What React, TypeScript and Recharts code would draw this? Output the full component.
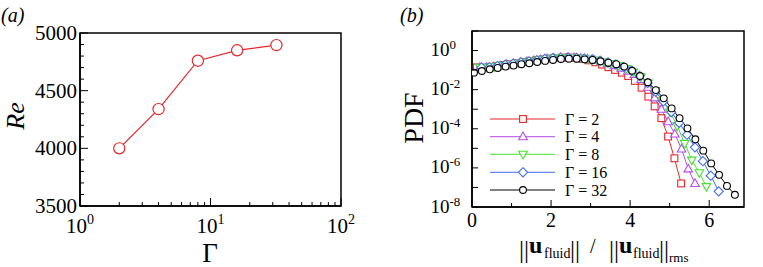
import { LineChart, Line, XAxis, YAxis, ReferenceArea, Legend } from "recharts";

const SERIF = '"Liberation Serif", "Times New Roman", serif';

// (a) Re against the aspect ratio Gamma
const gammaValues = [2, 4, 8, 16, 32];
const reValues = [4000, 4340, 4760, 4850, 4895];
const gammaTicks = [1, 2, 3, 4, 5, 6, 7, 8, 9, 10, 20, 30, 40, 50, 60, 70, 80, 90, 100];
const reTicks = [3500, 3600, 3700, 3800, 3900, 4000, 4100, 4200, 4300, 4400, 4500, 4600, 4700, 4800, 4900, 5000];

// (b) PDF of the fluid speed, one x/pdf pair per Gamma
const speed2 = [0.12, 0.29, 0.45, 0.62, 0.79, 0.95, 1.12, 1.29, 1.45, 1.62, 1.79, 1.95, 2.12, 2.29, 2.45, 2.62, 2.79, 2.95, 3.12, 3.29, 3.45, 3.62, 3.79, 3.95, 4.12, 4.29, 4.46, 4.62, 4.79, 4.96, 5.12, 5.29];
const pdf2 = [0.138, 0.135, 0.138, 0.158, 0.182, 0.2, 0.224, 0.257, 0.282, 0.316, 0.355, 0.389, 0.417, 0.437, 0.437, 0.417, 0.372, 0.316, 0.251, 0.191, 0.141, 0.102, 0.074, 0.05, 0.028, 0.0126, 4.4e-3, 1.4e-3, 3.5e-4, 4.0e-5, 3.1e-6, 1.6e-7];

const speed4 = [0.2, 0.37, 0.54, 0.71, 0.88, 1.05, 1.22, 1.39, 1.56, 1.73, 1.9, 2.07, 2.24, 2.41, 2.58, 2.75, 2.92, 3.09, 3.26, 3.43, 3.6, 3.77, 3.94, 4.11, 4.28, 4.45, 4.62, 4.79, 4.96, 5.13, 5.3, 5.47, 5.64];
const pdf4 = [0.138, 0.138, 0.148, 0.17, 0.195, 0.214, 0.245, 0.275, 0.302, 0.339, 0.38, 0.407, 0.427, 0.437, 0.427, 0.407, 0.372, 0.324, 0.269, 0.219, 0.17, 0.126, 0.089, 0.06, 0.033, 0.0132, 3.8e-3, 1.0e-3, 2.3e-4, 5.4e-5, 9.3e-6, 8.9e-7, 1.6e-7];

const speed8 = [0.2, 0.38, 0.57, 0.75, 0.94, 1.12, 1.31, 1.49, 1.68, 1.86, 2.05, 2.23, 2.42, 2.6, 2.79, 2.97, 3.16, 3.34, 3.53, 3.71, 3.9, 4.08, 4.27, 4.45, 4.64, 4.82, 5.01, 5.19, 5.38, 5.56, 5.75, 5.93];
const pdf8 = [0.138, 0.138, 0.151, 0.174, 0.2, 0.224, 0.257, 0.288, 0.331, 0.372, 0.407, 0.427, 0.437, 0.427, 0.407, 0.372, 0.324, 0.269, 0.219, 0.17, 0.12, 0.079, 0.045, 0.022, 8.9e-3, 2.8e-3, 7.1e-4, 1.4e-4, 1.8e-5, 2.5e-6, 5.6e-7, 1.1e-7];

const speed16 = [0.24, 0.44, 0.64, 0.84, 1.04, 1.24, 1.44, 1.64, 1.84, 2.04, 2.24, 2.44, 2.64, 2.84, 3.04, 3.24, 3.44, 3.64, 3.84, 4.04, 4.24, 4.44, 4.64, 4.84, 5.04, 5.24, 5.44, 5.64, 5.84, 6.04, 6.24];
const pdf16 = [0.138, 0.141, 0.162, 0.191, 0.214, 0.251, 0.282, 0.324, 0.372, 0.407, 0.427, 0.437, 0.427, 0.398, 0.355, 0.302, 0.245, 0.195, 0.145, 0.095, 0.05, 0.022, 7.9e-3, 2.5e-3, 7.1e-4, 2.0e-4, 5.0e-5, 1.12e-5, 2.2e-6, 4.0e-7, 6.3e-8];

const speed32 = [0.05, 0.25, 0.45, 0.65, 0.85, 1.05, 1.25, 1.45, 1.65, 1.85, 2.05, 2.25, 2.45, 2.65, 2.85, 3.05, 3.25, 3.45, 3.65, 3.85, 4.05, 4.25, 4.45, 4.65, 4.85, 5.05, 5.25, 5.45, 5.65, 5.85, 6.05, 6.25, 6.45, 6.65];
const pdf32 = [0.074, 0.09, 0.11, 0.129, 0.151, 0.17, 0.2, 0.224, 0.26, 0.295, 0.331, 0.372, 0.385, 0.385, 0.355, 0.331, 0.282, 0.24, 0.2, 0.151, 0.093, 0.05, 0.024, 9.5e-3, 3.6e-3, 1.1e-3, 3.5e-4, 1.05e-4, 2.9e-5, 7.6e-6, 1.7e-6, 4.4e-7, 1.2e-7, 4.2e-8];

const speedTicks = [0, 1, 2, 3, 4, 5, 6];
const pdfTicks = [1e-8, 1e-7, 1e-6, 1e-5, 1e-4, 1e-3, 1e-2, 1e-1, 1, 10];
const legendLabels = ["Γ = 2", "Γ = 4", "Γ = 8", "Γ = 16", "Γ = 32"];

const toPoints = (xs: number[], ys: number[]) => xs.map((x, i) => ({ x, y: ys[i] }));

const reData = gammaValues.map((g, i) => ({ gamma: g, re: reValues[i] }));

const series = [
  { data: toPoints(speed2, pdf2), color: "#e5272b", shape: "square" },
  { data: toPoints(speed4, pdf4), color: "#b64be6", shape: "up" },
  { data: toPoints(speed8, pdf8), color: "#45e02d", shape: "down" },
  { data: toPoints(speed16, pdf16), color: "#3e6ff0", shape: "diamond" },
  { data: toPoints(speed32, pdf32), color: "#000000", shape: "circle" },
];

type MarkerProps = { cx: number; cy: number; shape: string; color: string };

function Marker({ cx, cy, shape, color }: MarkerProps) {
  const common = { fill: "#fff", stroke: color, strokeWidth: 1.1 };
  if (shape === "square") {
    return <rect x={cx - 3.4} y={cy - 3.4} width={6.8} height={6.8} {...common} />;
  }
  if (shape === "up") {
    return <polygon points={`${cx},${cy - 4.6} ${cx + 4.3},${cy + 3} ${cx - 4.3},${cy + 3}`} {...common} />;
  }
  if (shape === "down") {
    return <polygon points={`${cx},${cy + 4.6} ${cx + 4.3},${cy - 3} ${cx - 4.3},${cy - 3}`} {...common} />;
  }
  if (shape === "diamond") {
    return <polygon points={`${cx},${cy - 4.6} ${cx + 4.6},${cy} ${cx},${cy + 4.6} ${cx - 4.6},${cy}`} {...common} />;
  }
  return <circle cx={cx} cy={cy} r={3.4} {...common} />;
}

const makeDot = (shape: string, color: string) => (p: any) => (
  <g key={`${shape}-${p.index}`}>
    {p.cx != null && p.cy != null ? <Marker cx={p.cx} cy={p.cy} shape={shape} color={color} /> : null}
  </g>
);

// ticks point into the plot, like the original
function GammaTick({ x, y, payload }: any) {
  const exp = Math.log10(payload.value);
  const major = Math.abs(exp - Math.round(exp)) < 1e-9;
  return (
    <g>
      <line x1={x} x2={x} y1={y} y2={y - (major ? 8 : 4)} stroke="#000" strokeWidth={1} />
      {major && (
        <text x={x} y={y + 27} textAnchor="middle" fontSize={21} fontFamily={SERIF} fill="#000">
          10<tspan dy={-9} fontSize={14}>{Math.round(exp)}</tspan>
        </text>
      )}
    </g>
  );
}

function ReTick({ x, y, payload }: any) {
  const major = payload.value % 500 === 0;
  return (
    <g>
      <line x1={x} x2={x + (major ? 8 : 4)} y1={y} y2={y} stroke="#000" strokeWidth={1} />
      {major && (
        <text x={x - 3} y={y + 7} textAnchor="end" fontSize={21} fontFamily={SERIF} fill="#000">
          {payload.value}
        </text>
      )}
    </g>
  );
}

function SpeedTick({ x, y, payload }: any) {
  const major = payload.value % 2 === 0;
  return (
    <g>
      <line x1={x} x2={x} y1={y} y2={y - (major ? 7 : 4)} stroke="#000" strokeWidth={1} />
      {major && (
        <text x={x} y={y + 20} textAnchor="middle" fontSize={20} fontFamily={SERIF} fill="#000">
          {payload.value}
        </text>
      )}
    </g>
  );
}

function PdfTick({ x, y, payload }: any) {
  const exp = Math.round(Math.log10(payload.value));
  return (
    <g>
      <line x1={x} x2={x + 6} y1={y} y2={y} stroke="#000" strokeWidth={1} />
      {exp % 2 === 0 && (
        <text x={x - 41.5} y={y + 5.5} textAnchor="start" fontSize={19} fontFamily={SERIF} fill="#000">
          10<tspan dy={-7} fontSize={13}>{exp === 0 ? "0" : `-${Math.abs(exp)}`}</tspan>
        </text>
      )}
    </g>
  );
}

function PdfLegend() {
  const rows = [9, 26.7, 44.3, 62.3, 80];
  return (
    <svg width={125} height={90} style={{ display: "block", overflow: "visible" }}>
      {series.map((s, i) => (
        <g key={legendLabels[i]}>
          <line x1={5} x2={70} y1={rows[i]} y2={rows[i]} stroke={s.color} strokeWidth={1} />
          <Marker cx={38} cy={rows[i]} shape={s.shape} color={s.color} />
          <text x={80} y={rows[i] + 5.5} fontSize={16} fontFamily={SERIF} fill="#000">
            {legendLabels[i]}
          </text>
        </g>
      ))}
    </svg>
  );
}

const axisLine = { stroke: "#000", strokeWidth: 1.5 };

export default function App() {
  return (
    <div style={{ position: "absolute", left: 0, top: 0, width: 763, height: 267, background: "#fff", fontFamily: SERIF }}>
      <div style={{ position: "absolute", left: 0, top: 0 }}>
        <LineChart width={380} height={267} data={reData} margin={{ top: 33, right: 39, bottom: 31, left: 20 }}>
          <XAxis
            type="number"
            dataKey="gamma"
            scale="log"
            domain={[1, 100]}
            allowDataOverflow
            ticks={gammaTicks}
            interval={0}
            height={30}
            tickSize={0}
            tickMargin={0}
            tickLine={false}
            axisLine={axisLine}
            tick={(p: any) => <GammaTick {...p} />}
          />
          <YAxis
            type="number"
            domain={[3500, 5000]}
            allowDataOverflow
            ticks={reTicks}
            interval={0}
            width={60}
            tickSize={0}
            tickMargin={0}
            tickLine={false}
            axisLine={axisLine}
            tick={(p: any) => <ReTick {...p} />}
          />
          <ReferenceArea x1={1} x2={100} y1={3500} y2={5000} fill="none" fillOpacity={0} stroke="#000" strokeWidth={1.5} />
          <Line
            type="linear"
            dataKey="re"
            stroke="#e5272b"
            strokeWidth={1.2}
            isAnimationActive={false}
            dot={(p: any) => (
              <circle key={`re-${p.index}`} cx={p.cx} cy={p.cy} r={5.6} fill="#fff" stroke="#e5272b" strokeWidth={1.2} />
            )}
          />
        </LineChart>
      </div>

      <div style={{ position: "absolute", left: 380, top: 0 }}>
        <LineChart width={383} height={267} margin={{ top: 31, right: 19, bottom: 30, left: 32 }}>
          <XAxis
            type="number"
            dataKey="x"
            domain={[0, 6.88]}
            allowDataOverflow
            ticks={speedTicks}
            interval={0}
            height={30}
            tickSize={0}
            tickMargin={0}
            tickLine={false}
            axisLine={axisLine}
            tick={(p: any) => <SpeedTick {...p} />}
          />
          <YAxis
            type="number"
            scale="log"
            domain={[1e-8, 10]}
            allowDataOverflow
            ticks={pdfTicks}
            interval={0}
            width={60}
            tickSize={0}
            tickMargin={0}
            tickLine={false}
            axisLine={axisLine}
            tick={(p: any) => <PdfTick {...p} />}
          />
          <ReferenceArea x1={0} x2={6.88} y1={1e-8} y2={10} fill="none" fillOpacity={0} stroke="#000" strokeWidth={1.5} />
          {series.map((s) => (
            <Line
              key={s.shape}
              data={s.data}
              type="linear"
              dataKey="y"
              stroke={s.color}
              strokeWidth={1}
              isAnimationActive={false}
              dot={makeDot(s.shape, s.color)}
            />
          ))}
          <Legend
            layout="horizontal"
            verticalAlign="middle"
            align="center"
            wrapperStyle={{ left: 105, top: 110, width: 125, height: 90 }}
            content={() => <PdfLegend />}
          />
        </LineChart>
      </div>

      <svg width={763} height={267} style={{ position: "absolute", left: 0, top: 0, pointerEvents: "none" }}>
        <g fontFamily={SERIF} fill="#000">
          <text x={1} y={22} fontSize={20} fontStyle="italic">(a)</text>
          <text x={400} y={22} fontSize={20} fontStyle="italic">(b)</text>
          <text transform="translate(24,116) rotate(-90)" textAnchor="middle" fontSize={26} fontStyle="italic">Re</text>
          <text x={210} y={262} textAnchor="middle" fontSize={27}>Γ</text>
          <text transform="translate(423,118) rotate(-90)" textAnchor="middle" fontSize={28}>PDF</text>
          <text x={519} y={257.5} fontSize={25}>||</text>
          <text x={529} y={253} fontSize={24} fontWeight="bold">u</text>
          <text x={544} y={258} fontSize={14}>fluid</text>
          <text x={570} y={257.5} fontSize={25}>||</text>
          <text x={590} y={253} fontSize={20}>/</text>
          <text x={609} y={257.5} fontSize={25}>||</text>
          <text x={619} y={253} fontSize={24} fontWeight="bold">u</text>
          <text x={633} y={258} fontSize={14}>fluid</text>
          <text x={659} y={257.5} fontSize={25}>||</text>
          <text x={669} y={261.5} fontSize={13}>rms</text>
        </g>
      </svg>
    </div>
  );
}
